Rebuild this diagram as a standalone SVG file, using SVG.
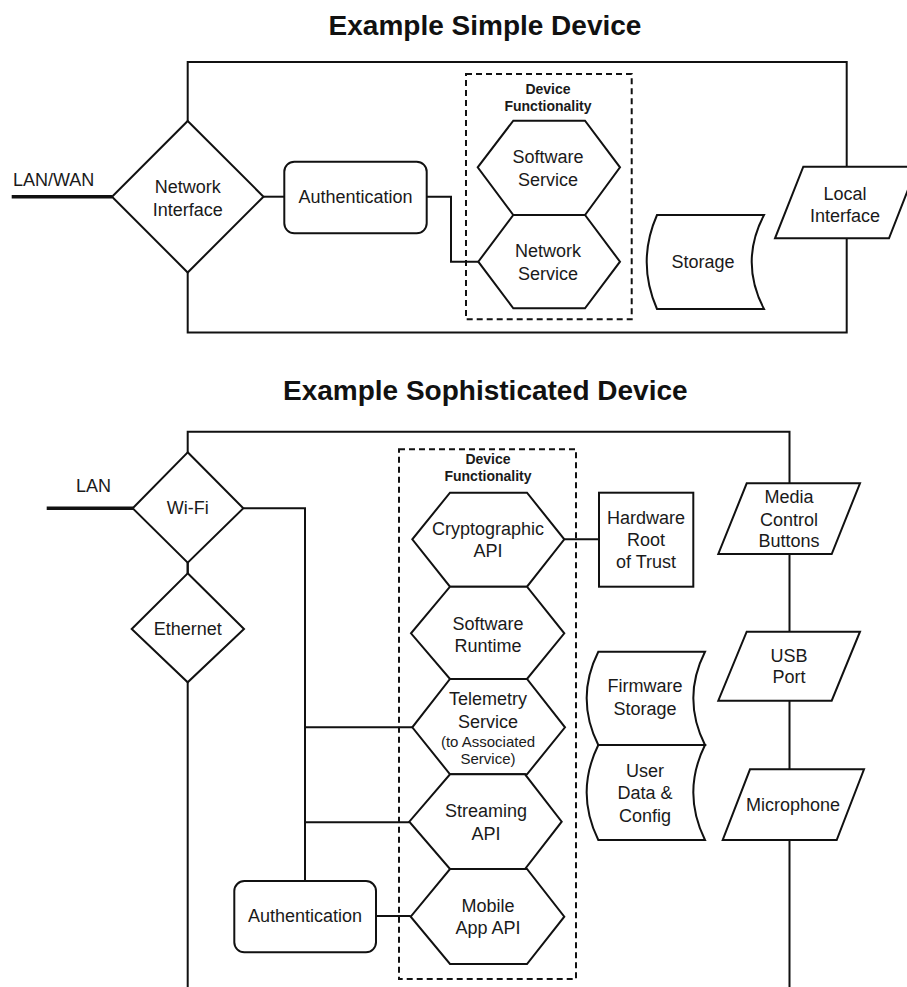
<svg xmlns="http://www.w3.org/2000/svg" width="907" height="987" viewBox="0 0 907 987">
<style>
.s{fill:#fff;stroke:#111;stroke-width:2;stroke-linejoin:miter}
.ln{fill:none;stroke:#111;stroke-width:2}
.thick{fill:none;stroke:#111;stroke-width:3.5}
.dash{fill:none;stroke:#111;stroke-width:2;stroke-dasharray:6 4}
text{font-family:"Liberation Sans",Arial,Helvetica,sans-serif;font-size:18px;fill:#1a1a1a;text-anchor:middle}
.title{font-size:28px;font-weight:bold;fill:#111}
.df{font-size:14px;font-weight:bold}
.sm{font-size:15px}
.st{text-anchor:start}
</style>
<rect width="907" height="987" fill="#fff"/>

<text class="title" x="485" y="35">Example Simple Device</text>
<text class="title" x="485.3" y="400">Example Sophisticated Device</text>

<g id="connectors">
  <rect class="ln" x="187.7" y="62" width="659" height="270.5"/>
  <path class="thick" d="M11.7,196.7H112"/>
  <path class="ln" d="M263.5,196.7H284.3"/>
  <path class="ln" d="M426.7,196.7H451V261.7H478.3"/>
  <path class="ln" d="M187.7,990V431.7H789.5V990"/>
  <path class="thick" d="M46.7,508.3H133"/>
  <path class="ln" d="M187.7,562.7V573.3"/>
  <path class="ln" d="M243.3,508.3H305V881"/>
  <path class="ln" d="M305,727.3H412.3"/>
  <path class="ln" d="M305,822.3H409.3"/>
  <path class="ln" d="M376,916H410.7"/>
  <path class="ln" d="M564.3,539.3H599"/>
</g>

<g id="simple-network-interface">
  <polygon class="s" points="187.7,121 263.5,196.7 187.7,272.5 112,196.7"/>
  <text x="187.7" y="193">Network</text>
  <text x="187.7" y="215.7">Interface</text>
</g>
<g id="simple-lanwan"><text class="st" x="13" y="186">LAN/WAN</text></g>
<g id="simple-authentication">
  <rect class="s" x="284.3" y="161.7" width="142.4" height="71.6" rx="10"/>
  <text x="355.5" y="202.7">Authentication</text>
</g>
<g id="simple-device-functionality">
  <rect class="dash" x="466" y="74" width="165.7" height="245.3"/>
  <text class="df" x="548" y="94">Device</text>
  <text class="df" x="548" y="110.7">Functionality</text>
</g>
<g id="simple-software-service">
  <polygon class="s" points="513.3,120.7 585,120.7 620,167.3 585,215 513.3,215 477.7,167.3"/>
  <text x="548" y="163.3">Software</text>
  <text x="548" y="186">Service</text>
</g>
<g id="simple-network-service">
  <polygon class="s" points="513.3,215 585,215 620,261.7 585,308.3 513.3,308.3 478.3,261.7"/>
  <text x="548" y="257">Network</text>
  <text x="548" y="280">Service</text>
</g>
<g id="simple-storage">
  <path class="s" d="M657,215H764Q739.4,262 764,309H657Q636.4,262 657,215Z"/>
  <text x="703" y="268.3">Storage</text>
</g>
<g id="simple-local-interface">
  <polygon class="s" points="803.3,166.7 917,166.7 889,238.3 775,238.3"/>
  <text x="845" y="200">Local</text>
  <text x="845" y="221.7">Interface</text>
</g>

<g id="lan-label"><text class="st" x="76" y="492.3">LAN</text></g>
<g id="wifi">
  <polygon class="s" points="187.7,452.3 243.3,508.3 187.7,562.7 132.7,508.3"/>
  <text x="187.7" y="514">Wi-Fi</text>
</g>
<g id="ethernet">
  <polygon class="s" points="187.7,573.3 244,629 187.7,682.3 131.7,629"/>
  <text x="187.7" y="635">Ethernet</text>
</g>
<g id="authentication">
  <rect class="s" x="234.3" y="881" width="141.7" height="71.3" rx="10"/>
  <text x="305" y="921.7">Authentication</text>
</g>
<g id="device-functionality">
  <rect class="dash" x="399" y="449.3" width="177" height="529.7"/>
  <text class="df" x="488" y="464">Device</text>
  <text class="df" x="488" y="480.7">Functionality</text>
</g>
<g id="cryptographic-api">
  <polygon class="s" points="450,492.7 527,492.7 564.3,539.3 527,586.7 450,586.7 412.3,539.3"/>
  <text x="488" y="535">Cryptographic</text>
  <text x="488" y="556.7">API</text>
</g>
<g id="software-runtime">
  <polygon class="s" points="450,586.7 527,586.7 564.3,633.3 527,679 450,679 411,633.3"/>
  <text x="488" y="630">Software</text>
  <text x="488" y="651.7">Runtime</text>
</g>
<g id="telemetry-service">
  <polygon class="s" points="450,679 527,679 565,727.3 527,774.3 450,774.3 412.3,727.3"/>
  <text x="488" y="705">Telemetry</text>
  <text x="488" y="728.3">Service</text>
  <text class="sm" x="488" y="746.7">(to Associated</text>
  <text class="sm" x="488" y="764">Service)</text>
</g>
<g id="streaming-api">
  <polygon class="s" points="450,774.3 525,774.3 561.7,821.7 525,869 450,869 409.3,821.7"/>
  <text x="486" y="817.3">Streaming</text>
  <text x="486" y="840">API</text>
</g>
<g id="mobile-app-api">
  <polygon class="s" points="450,869 527,869 564.3,916.7 527,964 450,964 410.7,916.7"/>
  <text x="488" y="911.7">Mobile</text>
  <text x="488" y="934">App API</text>
</g>
<g id="hardware-root-of-trust">
  <rect class="s" x="599" y="492.7" width="94.3" height="94"/>
  <text x="646" y="524">Hardware</text>
  <text x="646" y="546">Root</text>
  <text x="646" y="568.3">of Trust</text>
</g>
<g id="firmware-storage">
  <path class="s" d="M598.3,651.7H705Q681.6,698.3 705,745H598.3Q575,698.3 598.3,651.7Z"/>
  <text x="645" y="691.7">Firmware</text>
  <text x="645" y="715">Storage</text>
</g>
<g id="user-data-config">
  <path class="s" d="M598.3,745H705Q681.6,792.5 705,840H598.3Q575,792.5 598.3,745Z"/>
  <text x="645" y="776.7">User</text>
  <text x="645" y="799.3">Data &amp;</text>
  <text x="645" y="821.7">Config</text>
</g>
<g id="media-control-buttons">
  <polygon class="s" points="746.7,483.3 860,483.3 831.7,554 718.3,554"/>
  <text x="789" y="502.7">Media</text>
  <text x="789" y="526">Control</text>
  <text x="789" y="547.3">Buttons</text>
</g>
<g id="usb-port">
  <polygon class="s" points="746.7,631.7 860,631.7 831.7,700.7 718.3,700.7"/>
  <text x="789" y="661.7">USB</text>
  <text x="789" y="683.3">Port</text>
</g>
<g id="microphone">
  <polygon class="s" points="750,769.3 864,769.3 836.7,840 722.7,840"/>
  <text x="793" y="810.7">Microphone</text>
</g>
</svg>
